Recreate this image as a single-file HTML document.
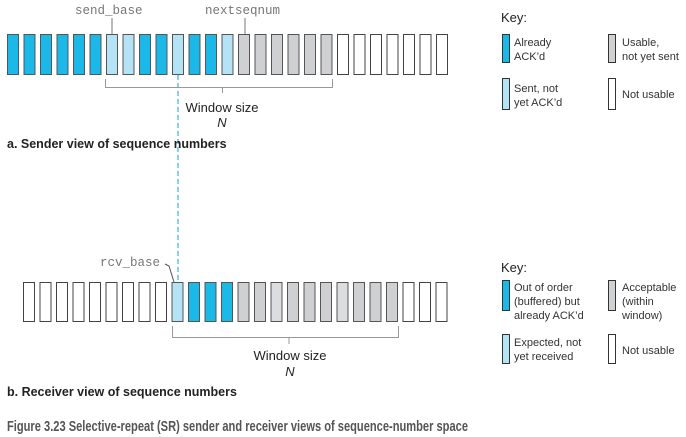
<!DOCTYPE html>
<html><head><meta charset="utf-8"><style>
html,body{margin:0;padding:0;background:#fff}
svg{display:block}
text{font-family:"Liberation Sans",sans-serif}
.mono{font-family:"Liberation Mono",monospace;fill:#777;font-size:12.5px}
.k{font-size:11px;fill:#333}
</style></head><body>
<svg width="686" height="437" viewBox="0 0 686 437" xmlns="http://www.w3.org/2000/svg">
<g id="sender"></g>
<g id="receiver"></g>

<line x1="178" y1="75" x2="178" y2="283" stroke="#1a9fd0" stroke-width="1" stroke-dasharray="5,3"/>

<text x="75" y="14" class="mono">send_base</text>
<line x1="112" y1="18" x2="112" y2="34" stroke="#777"/>
<text x="205" y="14" class="mono">nextseqnum</text>
<line x1="245" y1="18" x2="245" y2="34" stroke="#777"/>

<path d="M105.5 79 V87.5 H332.5 V79 M222.5 87.5 V93" fill="none" stroke="#999"/>
<text x="222" y="112" text-anchor="middle" font-size="13" fill="#222">Window size</text>
<text x="222" y="127" text-anchor="middle" font-size="13" font-style="italic" fill="#222">N</text>
<text x="7" y="148" font-size="12.5" font-weight="bold" fill="#222">a. Sender view of sequence numbers</text>

<text x="100" y="266" class="mono">rcv_base</text>
<path d="M165 264 L169 266 L174 282" fill="none" stroke="#555"/>
<path d="M172.5 326 V337.5 H398.5 V326 M289 337.5 V344" fill="none" stroke="#999"/>
<text x="290" y="360" text-anchor="middle" font-size="13" fill="#222">Window size</text>
<text x="290" y="376" text-anchor="middle" font-size="13" font-style="italic" fill="#222">N</text>
<text x="7" y="396" font-size="12.5" font-weight="bold" fill="#222">b. Receiver view of sequence numbers</text>

<text x="7" y="431" font-size="15" font-weight="bold" fill="#555" textLength="461" lengthAdjust="spacingAndGlyphs">Figure 3.23 Selective-repeat (SR) sender and receiver views of sequence-number space</text>

<g>
<text x="501" y="22" font-size="13" fill="#222">Key:</text>
<rect x="502.5" y="34.5" width="7" height="28" fill="#1cb8e8" stroke="#333"/>
<text x="514" y="46" class="k">Already</text><text x="514" y="60" class="k">ACK’d</text>
<rect x="608.5" y="34.5" width="7" height="28" fill="#d0d1d3" stroke="#333"/>
<text x="622" y="46" class="k">Usable,</text><text x="622" y="60" class="k">not yet sent</text>
<rect x="502.5" y="78.5" width="7" height="31" fill="#b5e3f6" stroke="#333"/>
<text x="514" y="92" class="k">Sent, not</text><text x="514" y="106" class="k">yet ACK’d</text>
<rect x="608.5" y="78.5" width="7" height="31" fill="#fff" stroke="#333"/>
<text x="622" y="98" class="k">Not usable</text>
</g>
<g>
<text x="501" y="272" font-size="13" fill="#222">Key:</text>
<rect x="502.5" y="280.5" width="7" height="30" fill="#1cb8e8" stroke="#333"/>
<text x="514" y="291" class="k">Out of order</text><text x="514" y="305" class="k">(buffered) but</text><text x="514" y="319" class="k">already ACK’d</text>
<rect x="608.5" y="280.5" width="7" height="30" fill="#d0d1d3" stroke="#333"/>
<text x="622" y="291" class="k">Acceptable</text><text x="622" y="305" class="k">(within</text><text x="622" y="319" class="k">window)</text>
<rect x="502.5" y="334.5" width="7" height="29" fill="#b5e3f6" stroke="#333"/>
<text x="514" y="346" class="k">Expected, not</text><text x="514" y="360" class="k">yet received</text>
<rect x="608.5" y="334.5" width="7" height="29" fill="#fff" stroke="#333"/>
<text x="622" y="354" class="k">Not usable</text>
</g>
</svg>
<script>
const senderStates=["A","A","A","A","A","A","S","S","A","A","S","A","A","S","U","U","U","U","U","U","N","N","N","N","N","N","N"];
const receiverStates=["N","N","N","N","N","N","N","N","N","E","B","B","B","G","G","L","G","G","G","L","G","G","G","N","N","N"];
const fills={A:"#1cb8e8",B:"#1cb8e8",S:"#b5e3f6",E:"#b5e3f6",U:"#cfd0d2",G:"#cfd0d2",L:"#dcdddf",N:"#ffffff"};
const NS="http://www.w3.org/2000/svg";
function draw(id,states,x0,y0,h){
  const g=document.getElementById(id);
  const pitch=16.5,w=11;
  states.forEach((s,i)=>{
    const r=document.createElementNS(NS,"rect");
    r.setAttribute("x",(x0+i*pitch).toFixed(1));
    r.setAttribute("y",y0);
    r.setAttribute("width",w);
    r.setAttribute("height",h);
    r.setAttribute("fill",fills[s]);
    r.setAttribute("stroke",s==="N"?"#444":"#555");
    r.setAttribute("stroke-width","1");
    
    
    g.appendChild(r);
  });
}
draw("sender",senderStates,7.5,34.5,40);
draw("receiver",receiverStates,23.5,282.5,39);
</script>
</body></html>
